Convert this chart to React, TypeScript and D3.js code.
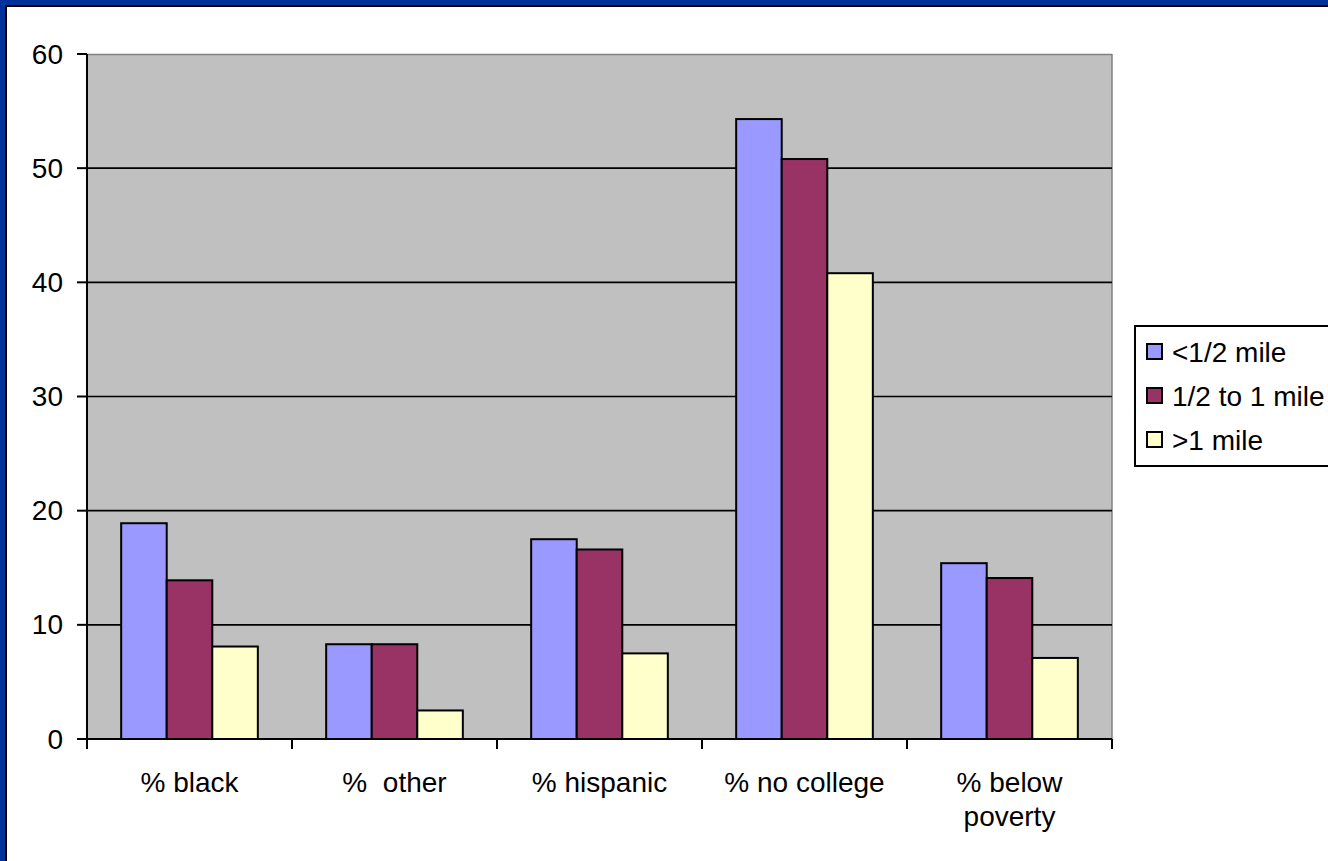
import React from "react";
import * as d3 from "d3";

const categories = ["% black", "%  other", "% hispanic", "% no college", "% below|poverty"];
const seriesNames = ["<1/2 mile", "1/2 to 1 mile", ">1 mile"];
const halfMile = [18.9, 8.3, 17.5, 54.3, 15.4];
const halfToOne = [13.9, 8.3, 16.6, 50.8, 14.1];
const overOne = [8.1, 2.5, 7.5, 40.8, 7.1];
const yTicks = [0, 10, 20, 30, 40, 50, 60];
const colors = ["#9999FF", "#993366", "#FFFFCC"];

const W = 1328;
const H = 861;
const FONT = "'Liberation Sans', Arial, sans-serif";

export default function App() {
  const left = 87;
  const right = 1112;
  const top = 54;
  const bottom = 739;
  const y = d3.scaleLinear().domain([0, 60]).range([bottom, top]);
  const x0 = d3.scaleBand<string>().domain(categories).range([left, right]).padding(0);
  const bw = x0.bandwidth();
  const w = bw / 4.5;
  const x1 = d3
    .scaleBand<string>()
    .domain(seriesNames)
    .range([0.75 * w, bw - 0.75 * w])
    .padding(0);
  const data = [halfMile, halfToOne, overOne];
  const tickPos = categories.map((c) => x0(c) as number).concat([right]);

  return (
    <svg
      width={W}
      height={H}
      style={{ position: "absolute", left: 0, top: 0, background: "#fff" }}
      fontFamily={FONT}
    >
      <rect x={0} y={0} width={W} height={H} fill="#fff" />
      {/* frame */}
      <rect x={0} y={0} width={W} height={5} fill="#003399" />
      <rect x={0} y={0} width={5} height={H} fill="#003399" />
      <rect x={5} y={5} width={W} height={2} fill="#000" />
      <rect x={5} y={5} width={2} height={H} fill="#000" />

      {/* plot area */}
      <rect x={left} y={top} width={right - left} height={bottom - top} fill="#C0C0C0" />
      <line x1={left} x2={right} y1={top + 0.5} y2={top + 0.5} stroke="#808080" strokeWidth={1.5} />
      <line x1={right} x2={right} y1={top} y2={bottom} stroke="#808080" strokeWidth={1.5} />

      {/* gridlines */}
      {yTicks
        .filter((t) => t > 0 && t < 60)
        .map((t) => (
          <line key={t} x1={left} x2={right} y1={y(t)} y2={y(t)} stroke="#000" strokeWidth={1.6} />
        ))}

      {/* bars */}
      {categories.map((c, i) => (
        <g key={c} transform={`translate(${x0(c)},0)`}>
          {seriesNames.map((s, j) => (
            <rect
              key={s}
              x={x1(s)}
              y={y(data[j][i])}
              width={x1.bandwidth()}
              height={y(0) - y(data[j][i])}
              fill={colors[j]}
              stroke="#000"
              strokeWidth={2}
            />
          ))}
        </g>
      ))}

      {/* axes */}
      <line x1={left} x2={left} y1={top} y2={bottom} stroke="#000" strokeWidth={2} />
      <line x1={left - 1} x2={right} y1={bottom} y2={bottom} stroke="#000" strokeWidth={2} />
      {yTicks.map((t) => (
        <g key={t}>
          <line x1={left - 10} x2={left} y1={y(t)} y2={y(t)} stroke="#000" strokeWidth={2} />
          <text
            x={63}
            y={y(t)}
            textAnchor="end"
            dominantBaseline="central"
            fontSize={28}
            fill="#000"
          >
            {t}
          </text>
        </g>
      ))}
      {tickPos.map((p, i) => (
        <line key={i} x1={p} x2={p} y1={bottom} y2={bottom + 10} stroke="#000" strokeWidth={2} />
      ))}
      {categories.map((c) => {
        const lines = c.split("|");
        const cx = (x0(c) as number) + bw / 2;
        return (
          <text
            key={c}
            x={cx}
            y={792}
            textAnchor="middle"
            fontSize={28}
            fill="#000"
            style={{ whiteSpace: "pre" }}
          >
            {lines.map((l, k) => (
              <tspan key={k} x={cx} dy={k === 0 ? 0 : 34}>
                {l}
              </tspan>
            ))}
          </text>
        );
      })}

      {/* legend */}
      <rect x={1135} y={326} width={220} height={140} fill="#fff" stroke="#000" strokeWidth={2} />
      {seriesNames.map((s, j) => (
        <g key={s} transform={`translate(0,${352 + j * 44})`}>
          <rect x={1147} y={-8} width={15} height={15} fill={colors[j]} stroke="#000" strokeWidth={2} />
          <text x={1172} y={0} dominantBaseline="central" fontSize={28} fill="#000">
            {s}
          </text>
        </g>
      ))}
    </svg>
  );
}
